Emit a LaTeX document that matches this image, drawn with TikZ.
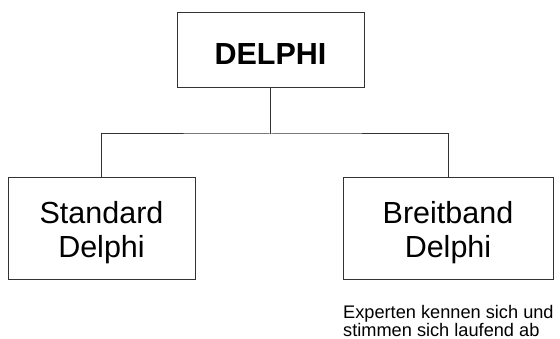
\documentclass[tikz,border=0pt]{standalone}
\usepackage{fontspec}
\setmainfont{Liberation Sans}
\newcommand\lowtext[1]{\raisebox{-3.5pt}[\height][\depth]{#1}}
\begin{document}
\begin{tikzpicture}[x=1pt,y=1pt,
  boxstyle/.style={draw=black!80,line width=1pt,inner sep=0pt,align=center,
    font=\fontsize{30.5}{34}\selectfont},
  linkstyle/.style={draw=black!80,line width=1pt}]
\useasboundingbox (0,0) rectangle (560,339);
\node[boxstyle,minimum width=187pt,minimum height=75pt,font=\fontsize{30.5}{34}\selectfont\bfseries] (top) at (270.5,288.5) {\lowtext{DELPHI}};
\node[boxstyle,minimum width=187pt,minimum height=102pt] (left) at (101.5,110) {\lowtext{Standard}\\\lowtext{Delphi}};
\node[boxstyle,minimum width=210pt,minimum height=102pt] (right) at (448,110) {\lowtext{Breitband}\\\lowtext{Delphi}};
\coordinate (j) at (270.5,205);
\draw[linkstyle] (top.south) -- (j);
\draw[linkstyle] (left.north) |- (j) -| (right.north);
\node[anchor=north west,inner sep=0pt,align=left,font=\fontsize{18.2}{18.5}\selectfont] (note) at (343,34) {Experten kennen sich und\\stimmen sich laufend ab};
\end{tikzpicture}
\end{document}
